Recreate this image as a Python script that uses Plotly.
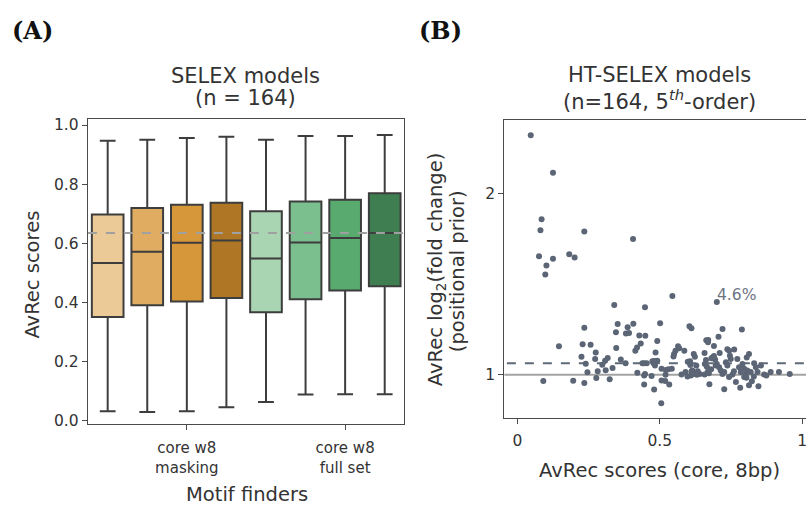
import plotly.graph_objects as go

W, H = 807, 506

# ---------------- Panel A data (box statistics) ----------------
box_pos = [0, 1, 2, 3, 4, 5, 6, 7]
box_upper = [0.947, 0.950, 0.956, 0.960, 0.950, 0.963, 0.963, 0.966]
box_q3 = [0.697, 0.719, 0.730, 0.737, 0.708, 0.741, 0.747, 0.769]
box_median = [0.533, 0.571, 0.601, 0.609, 0.548, 0.602, 0.617, 0.634]
box_q1 = [0.350, 0.390, 0.402, 0.414, 0.366, 0.410, 0.440, 0.454]
box_lower = [0.031, 0.028, 0.031, 0.044, 0.062, 0.087, 0.088, 0.088]
box_colors = ["#EBCA98", "#E0AC62", "#D6963A", "#AE7625",
              "#A9D5B3", "#7BBF8E", "#58AA6E", "#3E7E50"]
a_ref_line = 0.634
a_tickvals = [2, 6]
a_ticktext = ["core w8<br>masking", "core w8<br>full set"]

# ---------------- Panel B data (scatter) ----------------
pts = [
    (0.047, 2.32), (0.125, 2.114), (0.085, 1.857), (0.081, 1.797), (0.235, 1.79), (0.406, 1.749),
    (0.076, 1.653), (0.125, 1.64), (0.102, 1.602), (0.098, 1.553), (0.182, 1.665), (0.201, 1.646),
    (0.544, 1.434), (0.700, 1.401), (0.340, 1.385), (0.448, 1.373), (0.352, 1.280), (0.346, 1.235),
    (0.387, 1.262), (0.407, 1.282), (0.381, 1.228), (0.392, 1.230), (0.501, 1.284), (0.235, 1.259),
    (0.604, 1.268), (0.611, 1.257), (0.720, 1.253), (0.788, 1.25), (0.706, 1.21), (0.428, 1.217),
    (0.449, 1.215),
    (0.491, 1.186), (0.433, 1.172), (0.420, 1.150), (0.414, 1.132), (0.347, 1.148), (0.146, 1.157),
    (0.229, 1.168), (0.257, 1.166), (0.275, 1.123), (0.564, 1.157), (0.568, 1.146), (0.555, 1.132),
    (0.550, 1.114), (0.548, 1.101), (0.586, 1.132), (0.619, 1.114), (0.623, 1.100), (0.657, 1.12),
    (0.669, 1.18), (0.663, 1.19), (0.670, 1.192), (0.690, 1.159), (0.737, 1.141), (0.743, 1.132),
    (0.761, 1.139), (0.813, 1.114), (0.805, 1.096), (0.485, 1.123), (0.685, 1.096), (0.681, 1.091),
    (0.690, 1.103),
    (0.225, 1.099), (0.240, 1.061), (0.273, 1.087), (0.317, 1.092), (0.308, 1.078), (0.298, 1.056),
    (0.334, 1.038), (0.246, 1.014), (0.282, 1.020), (0.310, 1.025), (0.380, 1.063), (0.363, 1.085),
    (0.445, 1.063), (0.474, 1.074), (0.478, 1.063), (0.483, 1.051), (0.480, 1.076), (0.491, 1.078),
    (0.454, 1.063), (0.439, 1.063),
    (0.506, 1.033), (0.521, 1.027), (0.530, 1.031), (0.542, 1.033),
    (0.606, 1.074), (0.614, 1.024), (0.609, 0.996), (0.597, 0.991), (0.576, 1.002), (0.598, 1.072),
    (0.607, 1.054), (0.628, 1.051), (0.658, 1.06), (0.620, 1.005), (0.611, 1.018), (0.640, 1.005),
    (0.633, 1.02),
    (0.662, 1.082), (0.665, 1.045), (0.668, 1.015), (0.657, 1.002), (0.672, 1.008),
    (0.694, 1.085), (0.696, 1.051), (0.708, 1.042), (0.714, 1.024), (0.720, 1.005), (0.726, 1.015),
    (0.746, 1.105), (0.749, 1.087), (0.732, 1.069), (0.737, 1.051),
    (0.772, 1.087), (0.778, 1.042), (0.784, 1.015), (0.796, 1.033), (0.802, 1.005), (0.807, 1.024),
    (0.819, 1.015), (0.796, 0.988), (0.804, 0.984), (0.743, 0.988), (0.755, 1.002),
    (0.831, 1.063), (0.837, 1.042), (0.843, 1.015), (0.855, 1.051), (0.866, 1.002), (0.874, 0.996),
    (0.889, 1.015), (0.918, 1.015), (0.956, 1.005),
    (0.421, 1.011), (0.445, 0.996), (0.471, 0.993), (0.448, 1.005),
    (0.277, 0.982), (0.324, 0.975), (0.091, 0.966), (0.196, 0.967), (0.235, 0.955), (0.445, 0.946),
    (0.480, 0.919), (0.506, 0.969), (0.519, 0.966), (0.533, 0.946), (0.505, 0.843), (0.674, 0.948),
    (0.726, 0.921), (0.767, 0.960), (0.782, 0.928), (0.813, 0.943), (0.823, 0.964), (0.846, 0.937),
    (0.590, 1.015), (0.680, 1.030), (0.700, 1.060), (0.760, 1.020), (0.790, 1.060), (0.630, 1.000),
    (0.710, 1.120), (0.520, 1.000), (0.830, 0.990),
]
scatter_x = [p[0] for p in pts]
scatter_y = [p[1] for p in pts]
b_base_line = 1.0
b_mean_line = 1.063
b_label = "4.6%"
b_label_pos = (0.768, 1.44)

# ---------------- helpers ----------------
def px_x(p):
    return p / W

def px_y(p):
    return 1 - p / H

TXT = "#333333"
AX = "#4a4a4a"
FONT = "DejaVu Sans"

fig = go.Figure()

for i in range(len(box_pos)):
    fig.add_trace(go.Box(
        x=[box_pos[i]], q1=[box_q1[i]], median=[box_median[i]], q3=[box_q3[i]],
        lowerfence=[box_lower[i]], upperfence=[box_upper[i]],
        fillcolor=box_colors[i], line=dict(color="#3d3d3d", width=2),
        width=0.8, whiskerwidth=0.5, boxpoints=False, showlegend=False,
        xaxis="x", yaxis="y", hoverinfo="skip",
    ))

fig.add_trace(go.Scatter(
    x=[-0.5, 7.5], y=[a_ref_line, a_ref_line], mode="lines",
    line=dict(color="#a0a0a0", width=2, dash="dash"), showlegend=False,
    xaxis="x", yaxis="y", hoverinfo="skip",
))

fig.add_trace(go.Scatter(
    x=[-0.1, 1.1], y=[b_base_line, b_base_line], mode="lines",
    line=dict(color="#a3a3a3", width=2), showlegend=False,
    xaxis="x2", yaxis="y2", hoverinfo="skip",
))
fig.add_trace(go.Scatter(
    x=[-0.1, 1.1], y=[b_mean_line, b_mean_line], mode="lines",
    line=dict(color="#5f6a79", width=2, dash="dash"), showlegend=False,
    xaxis="x2", yaxis="y2", hoverinfo="skip",
))
fig.add_trace(go.Scatter(
    x=scatter_x, y=scatter_y, mode="markers",
    marker=dict(color="#5b6575", size=6), showlegend=False,
    xaxis="x2", yaxis="y2", hoverinfo="skip",
))

axis_common = dict(showgrid=False, zeroline=False, showline=True, linecolor=AX, linewidth=1.3,
                   ticks="outside", ticklen=5, tickcolor=AX, tickwidth=1.2,
                   tickfont=dict(family=FONT, size=15.5, color=TXT))

fig.update_layout(
    width=W, height=H, margin=dict(l=0, r=0, t=0, b=0),
    paper_bgcolor="white", plot_bgcolor="white", showlegend=False,
    xaxis=dict(domain=[px_x(88), px_x(405)], range=[-0.5, 7.5], anchor="y", mirror=True,
               tickvals=a_tickvals, ticktext=a_ticktext, ticklabelstandoff=5, **axis_common),
    yaxis=dict(domain=[px_y(428), px_y(118)], range=[-0.0133, 1.02], anchor="x", mirror=True,
               tickvals=[0, 0.2, 0.4, 0.6, 0.8, 1.0], tickformat=".1f", **axis_common),
    xaxis2=dict(domain=[px_x(505), 1.0], range=[-0.0456, 1.013], anchor="y2", mirror=True,
                tickvals=[0, 0.5, 1], ticktext=["0", "0.5", "1"], ticklabelstandoff=3,
                ticklabeloverflow="allow", **axis_common),
    yaxis2=dict(domain=[px_y(422), px_y(119)], range=[0.760, 2.404], anchor="x2", mirror=False,
                tickvals=[1, 2], ticktext=["1", "2"], **axis_common),
)
fig.layout.xaxis.tickfont.size = 15

def ann(text, x, y, size, angle=0, color=TXT, family=FONT, xanchor="center"):
    fig.add_annotation(text=text, x=px_x(x), y=px_y(y), xref="paper", yref="paper",
                       showarrow=False, textangle=angle, xanchor=xanchor, yanchor="middle",
                       font=dict(family=family, size=size, color=color))

ann("<b>(A)</b>", 10, 28, 24, color="#111111", family="DejaVu Serif", xanchor="left")
ann("<b>(B)</b>", 418, 28, 24, color="#111111", family="DejaVu Serif", xanchor="left")
ann("SELEX models", 246, 74, 21)
ann("(n = 164)", 246, 97, 21)
ann("HT-SELEX models", 660, 73, 21)
ann("(n=164, 5<sup><i>th</i></sup>-order)", 660, 99, 21)
ann("AvRec scores", 33, 276, 19.5, angle=-90)
ann("Motif finders", 247, 499, 19.5)
ann("AvRec log<sub>2</sub>(fold change)", 437, 270, 19.5, angle=-90)
ann("(positional prior)", 458, 272, 19.5, angle=-90)
ann("AvRec scores (core, 8bp)", 660, 475, 19.5)
fig.add_annotation(text=b_label, x=b_label_pos[0], y=b_label_pos[1], xref="x2", yref="y2",
                   showarrow=False, font=dict(family=FONT, size=15.5, color="#6b7382"))

fig.write_html("out.html")
